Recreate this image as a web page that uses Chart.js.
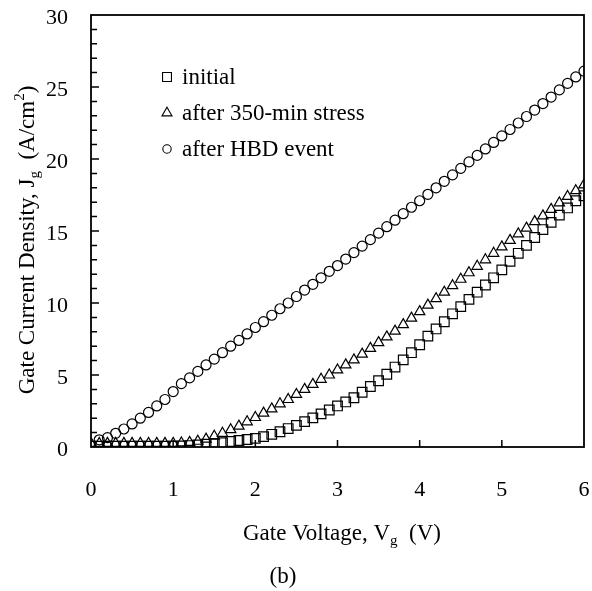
<!DOCTYPE html>
<html>
<head>
<meta charset="utf-8">
<script src="https://cdn.jsdelivr.net/npm/chart.js@4"></script>
<style>
  html, body { margin: 0; padding: 0; background: #fff; }
  #wrap { width: 592px; height: 591px; }
</style>
</head>
<body>
<div id="wrap"><canvas id="grafico" width="592" height="591"></canvas></div>
<script>
// gate voltage (V)
const voltage = [0.0, 0.1, 0.2, 0.3, 0.4, 0.5, 0.6, 0.7, 0.8, 0.9,
  1.0, 1.1, 1.2, 1.3, 1.4, 1.5, 1.6, 1.7, 1.8, 1.9,
  2.0, 2.1, 2.2, 2.3, 2.4, 2.5, 2.6, 2.7, 2.8, 2.9,
  3.0, 3.1, 3.2, 3.3, 3.4, 3.5, 3.6, 3.7, 3.8, 3.9,
  4.0, 4.1, 4.2, 4.3, 4.4, 4.5, 4.6, 4.7, 4.8, 4.9,
  5.0, 5.1, 5.2, 5.3, 5.4, 5.5, 5.6, 5.7, 5.8, 5.9, 6.0];

// gate current density (A/cm2)
const jInitial = [0.05, 0.05, 0.05, 0.05, 0.05, 0.05, 0.05, 0.05, 0.05, 0.05,
  0.06, 0.08, 0.1, 0.15, 0.2, 0.25, 0.3, 0.38, 0.45, 0.52,
  0.6, 0.72, 0.88, 1.06, 1.28, 1.5, 1.76, 2.02, 2.3, 2.57,
  2.85, 3.13, 3.42, 3.8, 4.2, 4.6, 5.05, 5.55, 6.05, 6.55,
  7.1, 7.7, 8.2, 8.7, 9.25, 9.75, 10.25, 10.75, 11.25, 11.75,
  12.3, 12.9, 13.45, 14.0, 14.55, 15.1, 15.6, 16.1, 16.6, 17.1, 17.45];

const jStress = [0.25, 0.25, 0.25, 0.25, 0.25, 0.25, 0.25, 0.25, 0.25, 0.25,
  0.25, 0.28, 0.32, 0.4, 0.55, 0.75, 0.95, 1.2, 1.45, 1.75,
  2.05, 2.35, 2.65, 3.0, 3.3, 3.65, 4.0, 4.35, 4.7, 5.0,
  5.35, 5.7, 6.05, 6.45, 6.85, 7.25, 7.65, 8.05, 8.5, 8.95,
  9.4, 9.85, 10.3, 10.75, 11.2, 11.65, 12.1, 12.55, 13.0, 13.45,
  13.9, 14.35, 14.8, 15.2, 15.65, 16.05, 16.5, 16.95, 17.4, 17.8, 18.2];

const jHBD = [null, 0.5, 0.65, 0.95, 1.25, 1.6, 2.0, 2.4, 2.85, 3.3,
  3.85, 4.4, 4.8, 5.25, 5.7, 6.1, 6.55, 7.0, 7.4, 7.85,
  8.3, 8.7, 9.15, 9.6, 10.0, 10.45, 10.9, 11.3, 11.75, 12.2,
  12.6, 13.05, 13.5, 13.95, 14.4, 14.85, 15.3, 15.75, 16.2, 16.65,
  17.1, 17.55, 18.0, 18.45, 18.9, 19.35, 19.8, 20.25, 20.7, 21.15,
  21.6, 22.05, 22.5, 22.95, 23.4, 23.85, 24.3, 24.8, 25.25, 25.7, 26.1];

const seriesNames = ['initial', 'after 350-min stress', 'after HBD event'];
const seriesStyles = ['rect', 'triangle', 'circle'];

const serif = '"Liberation Serif", "DejaVu Serif", serif';

function toPoints(ys) {
  return voltage.map((v, i) => ({ x: v, y: ys[i] })).filter(p => p.y !== null);
}

// draw text made of runs, some of them sub/superscript, centered on (0,0)
function drawRuns(ctx, runs) {
  let total = 0;
  runs.forEach(r => {
    ctx.font = (r.size || 23) + 'px ' + serif;
    r.w = ctx.measureText(r.t).width;
    total += r.w;
  });
  let x = -total / 2;
  runs.forEach(r => {
    ctx.font = (r.size || 23) + 'px ' + serif;
    ctx.fillText(r.t, x, r.dy || 0);
    x += r.w;
  });
}

// keep the plot box where the reference has it
function fixScale(scale, size) {
  if (scale.isHorizontal()) scale.height = size; else scale.width = size;
  scale.paddingLeft = 0;
  scale.paddingRight = 0;
  scale.paddingTop = 0;
  scale.paddingBottom = 0;
}

const framePlugin = {
  id: 'frame',
  afterDraw(chart) {
    const ctx = chart.ctx;
    const a = chart.chartArea;
    const xs = chart.scales.x;
    const ys = chart.scales.y;
    ctx.save();
    ctx.strokeStyle = '#000';
    ctx.lineWidth = 1.8;
    ctx.strokeRect(a.left, a.top, a.right - a.left, a.bottom - a.top);

    ctx.lineWidth = 1.5;
    ctx.beginPath();
    for (let v = 1; v < 30; v++) {
      const py = ys.getPixelForValue(v);
      const len = v % 5 === 0 ? 8 : 6;
      ctx.moveTo(a.left, py);
      ctx.lineTo(a.left + len, py);
    }
    for (let v = 1; v < 6; v++) {
      const px = xs.getPixelForValue(v);
      ctx.moveTo(px, a.bottom);
      ctx.lineTo(px, a.bottom - 7);
    }
    ctx.stroke();

    // legend inside the plot
    ctx.textBaseline = 'middle';
    ctx.textAlign = 'left';
    const rows = [77, 113, 149];
    const legendRadius = [6.3, 5.8, 4.2];
    seriesNames.forEach((name, i) => {
      ctx.fillStyle = 'rgba(0,0,0,0)';
      ctx.lineWidth = 1.1;
      Chart.helpers.drawPoint(ctx, {
        pointStyle: seriesStyles[i],
        radius: legendRadius[i],
        borderWidth: 1.1
      }, 167, rows[i]);
      ctx.fillStyle = '#000';
      ctx.font = '23px ' + serif;
      ctx.fillText(name, 182, rows[i] + 1);
    });

    // axis titles
    ctx.fillStyle = '#000';
    ctx.textBaseline = 'alphabetic';
    ctx.save();
    ctx.translate(342, 540);
    drawRuns(ctx, [
      { t: 'Gate Voltage, V' },
      { t: 'g', size: 15, dy: 5 },
      { t: '  (V)' }
    ]);
    ctx.restore();

    ctx.save();
    ctx.translate(34, 240);
    ctx.rotate(-Math.PI / 2);
    drawRuns(ctx, [
      { t: 'Gate Current Density, J' },
      { t: 'g', size: 15, dy: 5 },
      { t: '  (A/cm' },
      { t: '2', size: 15, dy: -10 },
      { t: ')' }
    ]);
    ctx.restore();

    ctx.textAlign = 'center';
    ctx.textBaseline = 'middle';
    ctx.font = '23px ' + serif;
    ctx.fillText('(b)', 283, 577);
    ctx.restore();
  }
};

const canvas = document.getElementById('grafico');
new Chart(canvas, {
  type: 'scatter',
  data: {
    datasets: [jInitial, jStress, jHBD].map((ys, i) => ({
      label: seriesNames[i],
      data: toPoints(ys),
      pointStyle: seriesStyles[i],
      pointRadius: [6.8, 6.0, 5.0][i],
      pointBorderWidth: 1.2,
      pointBorderColor: '#000',
      pointBackgroundColor: 'rgba(0,0,0,0)',
      showLine: false
    }))
  },
  options: {
    responsive: false,
    animation: false,
    layout: { padding: { top: 15, right: 7, left: 0, bottom: 0 } },
    plugins: {
      legend: { display: false },
      tooltip: { enabled: false }
    },
    scales: {
      x: {
        type: 'linear',
        min: 0,
        max: 6,
        grid: { display: false, drawTicks: false },
        border: { display: false },
        ticks: {
          stepSize: 1,
          padding: 30,
          color: '#000',
          font: { family: serif, size: 22 }
        },
        afterFit: (scale) => fixScale(scale, 144)
      },
      y: {
        type: 'linear',
        min: 0,
        max: 30,
        grid: { display: false, drawTicks: false },
        border: { display: false },
        ticks: {
          stepSize: 5,
          padding: 23,
          labelOffset: 3,
          color: '#000',
          font: { family: serif, size: 22 }
        },
        afterFit: (scale) => fixScale(scale, 91)
      }
    }
  },
  plugins: [framePlugin]
});
</script>
</body>
</html>
